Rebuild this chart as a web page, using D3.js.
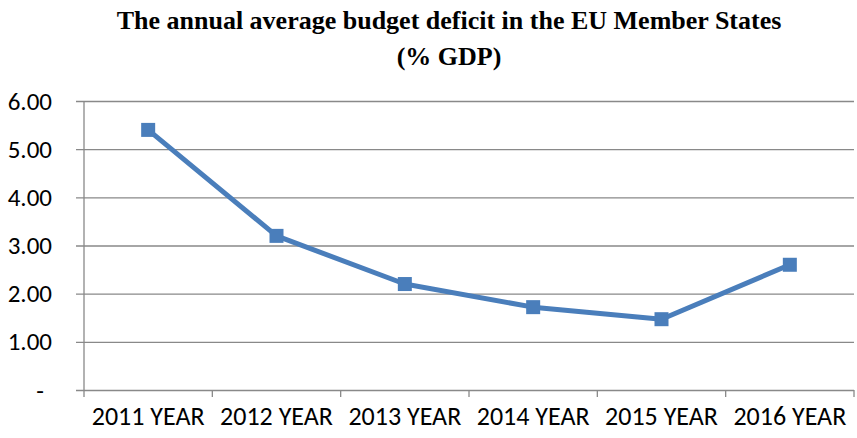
<!DOCTYPE html>
<html>
<head>
    <title>Budget deficit</title>
    <script src="https://d3js.org/d3.v7.min.js"></script>
    <style>
        body { margin: 0; background: #fff; }
    </style>
</head>
<body>
    <svg width="857" height="438"></svg>
    <script>
        // Data
        var years = ["2011 YEAR", "2012 YEAR", "2013 YEAR", "2014 YEAR", "2015 YEAR", "2016 YEAR"];
        var deficit = [5.40, 3.20, 2.20, 1.72, 1.47, 2.60];
        var yTicks = [0, 1, 2, 3, 4, 5, 6];

        var svg = d3.select("svg");
        var plotLeft = 84, plotRight = 854, plotTop = 101, plotBottom = 390;
        var labelFont = "Carlito, Calibri, 'Liberation Sans Narrow', 'Open Sans', sans-serif";

        var x = d3.scaleBand().domain(years).range([plotLeft, plotRight]);
        var y = d3.scaleLinear().domain([0, 6]).range([plotBottom, plotTop]);

        // Title
        var title = svg.append("text")
            .attr("text-anchor", "middle")
            .attr("font-family", "'Liberation Serif', 'Times New Roman', serif")
            .attr("font-weight", "bold")
            .attr("font-size", 26)
            .attr("fill", "#000");
        title.append("tspan").attr("x", 449).attr("y", 29).text("The annual average budget deficit in the EU Member States");
        title.append("tspan").attr("x", 449).attr("y", 65).text("(% GDP)");

        // Y axis with gridlines
        var yAxis = d3.axisLeft(y)
            .tickValues(yTicks)
            .tickSize(-(plotRight - plotLeft))
            .tickPadding(32)
            .tickFormat(function(d) { return d === 0 ? "-" : d3.format(".2f")(d); });

        var gy = svg.append("g")
            .attr("transform", "translate(" + plotLeft + ",0)")
            .call(yAxis);
        gy.select(".domain").remove();
        gy.selectAll(".tick line")
            .attr("x1", -8)
            .attr("stroke", "#898989")
            .attr("stroke-width", 1.3);
        gy.selectAll(".tick text")
            .attr("font-family", labelFont)
            .attr("font-size", 25)
            .attr("fill", "#000");
        gy.selectAll(".tick text").filter(function(d) { return d === 0; }).attr("dx", -8);

        svg.append("line")
            .attr("x1", plotLeft).attr("x2", plotLeft)
            .attr("y1", plotTop).attr("y2", plotBottom + 7)
            .attr("stroke", "#898989").attr("stroke-width", 1.3);

        // X axis
        var xAxis = d3.axisBottom(x).tickSize(0).tickPadding(17);
        var gx = svg.append("g")
            .attr("transform", "translate(0," + plotBottom + ")")
            .call(xAxis);
        gx.select(".domain").remove();
        gx.selectAll(".tick text")
            .attr("font-family", labelFont)
            .attr("font-size", 26)
            .attr("fill", "#000");
        gx.selectAll(".sep")
            .data(years)
            .enter()
            .append("line")
            .attr("x1", function(d) { return x(d) + x.bandwidth(); })
            .attr("x2", function(d) { return x(d) + x.bandwidth(); })
            .attr("y1", 0).attr("y2", 7)
            .attr("stroke", "#898989").attr("stroke-width", 1.3);

        // Line
        var line = d3.line()
            .x(function(d, i) { return x(years[i]) + x.bandwidth() / 2; })
            .y(function(d) { return y(d); });

        svg.append("path")
            .datum(deficit)
            .attr("d", line)
            .attr("fill", "none")
            .attr("stroke", "#4a7ebb")
            .attr("stroke-width", 5)
            .attr("stroke-linejoin", "round");

        svg.selectAll(".marker")
            .data(deficit)
            .enter()
            .append("rect")
            .attr("x", function(d, i) { return x(years[i]) + x.bandwidth() / 2 - 7; })
            .attr("y", function(d) { return y(d) - 7; })
            .attr("width", 14)
            .attr("height", 14)
            .attr("fill", "#4a7ebb");
    </script>
</body>
</html>
